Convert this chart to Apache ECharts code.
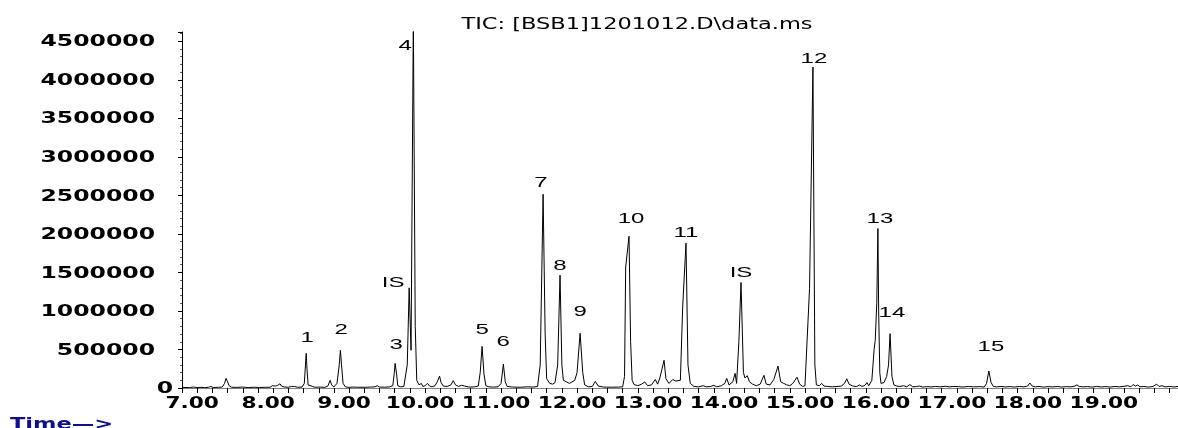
<!DOCTYPE html>
<html>
<head>
<meta charset="utf-8">
<script src="https://cdn.jsdelivr.net/npm/echarts@6/dist/echarts.min.js"></script>
<style>html,body{margin:0;padding:0;background:#fff;}#c{width:1178px;height:428px;}</style>
</head>
<body>
<div id="c"></div>
<script>
// Retention time (min) and abundance
const times = [
6.80,6.90,6.95,7.00,7.05,7.10,7.15,7.18,7.21,7.28,7.33,7.36,7.38,7.40,7.42,7.45,7.52,7.60,7.68,7.75,
7.82,7.90,7.96,7.99,8.01,8.03,8.06,8.09,8.11,8.15,8.20,8.24,8.26,8.28,8.32,8.38,8.41,8.425,8.435,8.445,
8.46,8.48,8.52,8.55,8.62,8.68,8.72,8.75,8.77,8.80,8.84,8.87,8.885,8.90,8.92,8.95,9.00,9.05,9.10,9.20,
9.28,9.34,9.37,9.40,9.47,9.53,9.575,9.595,9.605,9.625,9.64,9.68,9.72,9.765,9.79,9.815,9.845,9.87,9.89,9.92,
9.95,9.97,10.00,10.03,10.06,10.09,10.13,10.16,10.19,10.21,10.24,10.29,10.34,10.37,10.40,10.44,10.48,10.52,10.58,10.65,
10.70,10.725,10.75,10.775,10.80,10.84,10.90,10.96,11.00,11.03,11.055,11.08,11.15,11.25,11.35,11.42,11.48,11.515,11.553,11.58,
11.60,11.64,11.68,11.71,11.745,11.776,11.80,11.82,11.86,11.90,11.97,12.00,12.04,12.075,12.10,12.15,12.20,12.24,12.28,12.35,
12.45,12.55,12.60,12.625,12.64,12.684,12.705,12.725,12.75,12.80,12.85,12.89,12.93,12.98,13.03,13.06,13.09,13.145,13.17,13.21,
13.26,13.30,13.36,13.39,13.434,13.46,13.49,13.54,13.60,13.66,13.70,13.76,13.80,13.84,13.90,13.945,13.97,14.00,14.05,14.08,
14.10,14.13,14.158,14.19,14.21,14.24,14.27,14.31,14.36,14.41,14.46,14.49,14.54,14.59,14.645,14.68,14.72,14.76,14.80,14.84,
14.895,14.93,14.97,15.00,15.025,15.06,15.07,15.105,15.13,15.15,15.19,15.22,15.25,15.30,15.36,15.42,15.48,15.52,15.55,15.58,
15.63,15.68,15.72,15.75,15.79,15.815,15.84,15.88,15.91,15.925,15.945,15.96,15.97,15.985,16.00,16.04,16.075,16.10,16.12,16.145,
16.17,16.21,16.25,16.30,16.34,16.38,16.42,16.47,16.51,16.55,16.60,16.66,16.72,16.78,16.85,16.90,16.96,17.02,17.08,17.15,
17.22,17.30,17.36,17.39,17.42,17.45,17.48,17.52,17.58,17.64,17.70,17.76,17.82,17.88,17.93,17.96,17.99,18.03,18.08,18.14,
18.20,18.26,18.32,18.38,18.44,18.50,18.55,18.58,18.61,18.66,18.72,18.78,18.84,18.90,18.96,19.02,19.08,19.14,19.20,19.25,
19.29,19.32,19.35,19.38,19.41,19.46,19.52,19.58,19.63,19.66,19.70,19.74,19.80,19.86,19.91
];
const abundance = [
8000,5000,12000,6000,9000,4000,10000,20000,7000,9000,12000,60000,125000,80000,30000,10000,8000,12000,6000,10000,
7000,9000,10000,30000,45000,25000,35000,55000,25000,12000,10000,20000,40000,20000,10000,12000,60000,300000,450000,250000,
40000,15000,20000,10000,12000,8000,25000,100000,40000,15000,60000,300000,490000,300000,60000,15000,8000,12000,10000,9000,
12000,15000,30000,12000,10000,14000,30000,200000,320000,180000,30000,15000,20000,300000,1300000,490000,4800000,800000,100000,40000,
60000,20000,30000,60000,25000,15000,30000,80000,155000,70000,25000,20000,40000,95000,40000,20000,35000,25000,12000,15000,
25000,200000,540000,180000,30000,15000,12000,15000,60000,310000,80000,20000,12000,10000,15000,12000,20000,300000,2515000,700000,
120000,60000,50000,70000,300000,1465000,300000,100000,80000,60000,100000,200000,710000,200000,40000,15000,20000,85000,25000,12000,
10000,12000,15000,150000,1570000,1970000,600000,100000,45000,30000,50000,78000,30000,40000,110000,50000,130000,360000,120000,60000,
110000,90000,100000,1050000,1880000,300000,60000,20000,15000,30000,15000,20000,35000,15000,30000,60000,125000,40000,80000,190000,
60000,600000,1370000,200000,130000,160000,80000,50000,30000,50000,165000,50000,40000,110000,285000,80000,60000,40000,30000,60000,
140000,50000,20000,30000,40000,1290000,1300000,4165000,300000,40000,30000,60000,25000,20000,15000,20000,25000,60000,120000,50000,
25000,20000,40000,20000,35000,70000,30000,100000,500000,620000,1100000,2070000,1000000,200000,60000,70000,150000,300000,705000,150000,
40000,25000,20000,30000,15000,45000,15000,20000,25000,12000,18000,14000,20000,15000,22000,15000,20000,18000,12000,20000,
15000,18000,12000,60000,220000,70000,20000,15000,20000,14000,18000,12000,20000,15000,25000,65000,25000,15000,20000,12000,
18000,14000,20000,12000,18000,15000,25000,40000,20000,15000,18000,12000,20000,14000,18000,12000,20000,15000,22000,30000,
15000,45000,25000,40000,15000,20000,12000,20000,50000,20000,30000,15000,20000,14000,20000
];
// Peak annotations: name, time, label height
const peakNames  = ['1','2','3','IS','4','5','6','7','8','9','10','11','IS','12','13','14','15'];
const peakTimes  = [8.447,8.895,9.618,9.579,9.737,10.75,11.026,11.526,11.776,12.04,12.71,13.434,14.158,15.118,15.987,16.145,17.447];
const peakLabelY = [645000,749000,555000,1360000,4437000,749000,593000,2658000,1580000,983000,2191000,2009000,1490000,4269000,2191000,970000,528000];
// Axis ticks and labels
const xTickValues = [7,8,9,10,11,12,13,14,15,16,17,18,19];
const xTickLabels = ['7.00','8.00','9.00','10.00','11.00','12.00','13.00','14.00','15.00','16.00','17.00','18.00','19.00'];
const yTickValues = [0,500000,1000000,1500000,2000000,2500000,3000000,3500000,4000000,4500000];
const yTickLabels = ['0','500000','1000000','1500000','2000000','2500000','3000000','3500000','4000000','4500000'];
const X_MIN = 6.8, X_MAX = 19.91, Y_MIN = 0, Y_MAX = 4620000;
const yTickStep = 500000;
const xTickStep = 0.2;

const traceData = times.map((t, i) => [t, abundance[i]]);
const labelData = peakNames.map((n, i) => [peakTimes[i], peakLabelY[i]]);
const xLabelData = xTickValues.map(v => [v, Y_MIN]);
const yLabelData = yTickValues.map(v => [X_MIN, v]);

function txt(x, y, text, font, align, valign, sx, fill) {
  return {
    type: 'text', x: x, y: y, scaleX: sx, silent: true,
    style: { text: text, font: font, fill: fill || '#000',
      align: align, verticalAlign: valign, textAlign: align, textVerticalAlign: valign }
  };
}

const chart = echarts.init(document.getElementById('c'), null, { renderer: 'canvas' });
chart.setOption({
  animation: false,
  backgroundColor: '#fff',
  graphic: [
    txt(637, 18, 'TIC: [BSB1]1201012.D\\data.ms', '15px "DejaVu Sans"', 'center', 'top', 1.5),
    txt(10, 418, 'Time\u2014>', 'bold 15px "DejaVu Sans"', 'left', 'top', 1.5, '#10108a')
  ],
  grid: { left: 182, right: 0, top: 32, bottom: 40, containLabel: false },
  xAxis: {
    type: 'value', min: X_MIN, max: X_MAX, interval: xTickStep,
    axisLine: { show: true, lineStyle: { color: '#808080', width: 1 } },
    axisTick: { show: true, length: 5, lineStyle: { color: '#000' } },
    splitLine: { show: false },
    axisLabel: { show: false }
  },
  yAxis: {
    type: 'value', min: Y_MIN, max: Y_MAX, interval: yTickStep,
    axisLine: { show: true, lineStyle: { color: '#000', width: 1 } },
    axisTick: { show: true, length: 4, lineStyle: { color: '#000' } },
    minorTick: { show: true, splitNumber: 5, length: 2, lineStyle: { color: '#666' } },
    splitLine: { show: false },
    axisLabel: { show: false }
  },
  series: [
    {
      type: 'line', data: traceData, showSymbol: false, symbol: 'none', clip: true,
      lineStyle: { color: '#000', width: 1 }, z: 3, silent: true
    },
    {
      type: 'custom', data: labelData, silent: true, z: 5, clip: false,
      renderItem: (params, api) => {
        const p = api.coord([api.value(0), api.value(1)]);
        return txt(p[0], p[1], peakNames[params.dataIndex], '15px "Liberation Sans"', 'center', 'middle', 1.6);
      }
    },
    {
      type: 'custom', data: xLabelData, silent: true, z: 5, clip: false,
      renderItem: (params, api) => {
        const p = api.coord([api.value(0), api.value(1)]);
        return txt(p[0] - 5, p[1] + 8, xTickLabels[params.dataIndex], 'bold 15.5px "DejaVu Sans"', 'center', 'top', 1.4);
      }
    },
    {
      type: 'custom', data: yLabelData, silent: true, z: 5, clip: false,
      renderItem: (params, api) => {
        const p = api.coord([api.value(0), api.value(1)]);
        const off = params.dataIndex === 0 ? 9 : 27;
        return txt(p[0] - off, p[1] + 1, yTickLabels[params.dataIndex], 'bold 16px "DejaVu Sans"', 'right', 'middle', 1.47);
      }
    }
  ]
});
</script>
</body>
</html>
